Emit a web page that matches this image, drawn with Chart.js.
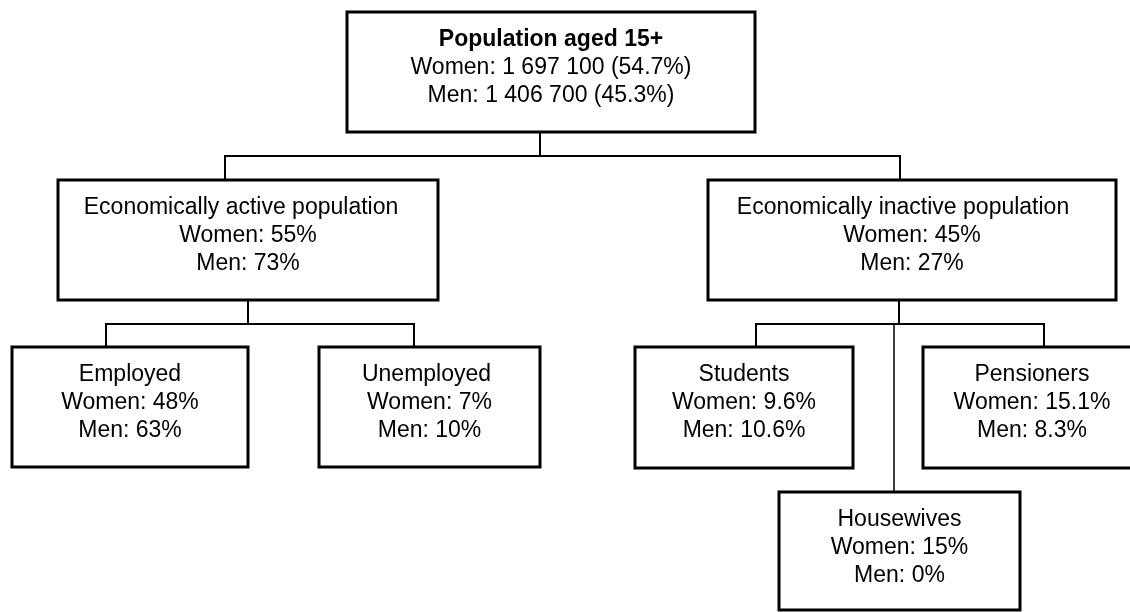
<!DOCTYPE html>
<html>
<head>
<meta charset="utf-8">
<script src="https://cdn.jsdelivr.net/npm/chart.js@4"></script>
<style>
  body { margin: 0; background: #fff; }
  canvas { display: block; }
</style>
</head>
<body>
<canvas id="tree" width="1130" height="612"></canvas>
<script>
// node data
const nodeTitles = [
    "Population aged 15+",
    "Economically active population",
    "Economically inactive population",
    "Employed",
    "Unemployed",
    "Students",
    "Pensioners",
    "Housewives",
];
const parentOf = [-1, 0, 0, 1, 1, 2, 2, 2];
const totalWomen = 1697100;
const totalMen = 1406700;
const shareWomen = 54.7;
const shareMen = 45.3;
const womenPct = [null, 55, 45, 48, 7, 9.6, 15.1, 15];
const menPct = [null, 73, 27, 63, 10, 10.6, 8.3, 0];

// layout (axis units = pixels of the 1130x612 page)
const boxes = [
    [347, 12, 755, 132],
    [58, 180, 438, 300],
    [708, 180, 1116, 300],
    [12, 347, 248, 467],
    [319, 347, 540, 467],
    [635, 347, 853, 468],
    [923, 347, 1136, 468],
    [779, 492, 1020, 610],
];
const titleShift = [0, -7, -9, 0, -3, 0, 0, 0];
const stemX = { 0: 540, 1: 248, 2: 899 };
const barY = { 0: 156, 1: 324, 2: 324 };
const dropX = [null, 225, 900, 106, 414, 756, 1044, 894];
const dropWidth = [null, 2, 2, 2, 2, 2, 2, 1.5];

function spaced(n) {
    return n.toString().replace(/\B(?=(\d{3})+(?!\d))/g, " ");
}

function nodeLines(i) {
    if (i === 0) {
        return [
            nodeTitles[0],
            "Women: " + spaced(totalWomen) + " (" + shareWomen + "%)",
            "Men: " + spaced(totalMen) + " (" + shareMen + "%)",
        ];
    }
    return [nodeTitles[i], "Women: " + womenPct[i] + "%", "Men: " + menPct[i] + "%"];
}

const datasets = [];

// boxes
boxes.forEach((b) => {
    datasets.push({
        data: [
            { x: b[0], y: b[1] },
            { x: b[2], y: b[1] },
            { x: b[2], y: b[3] },
            { x: b[0], y: b[3] },
            { x: b[0], y: b[1] },
        ],
        showLine: true,
        borderColor: "#000",
        borderWidth: 3,
        borderJoinStyle: "miter",
        borderCapStyle: "square",
        pointRadius: 0,
        fill: false,
    });
});

function segment(x0, y0, x1, y1, w) {
    datasets.push({
        data: [{ x: x0, y: y0 }, { x: x1, y: y1 }],
        showLine: true,
        borderColor: "#000",
        borderWidth: w,
        pointRadius: 0,
        fill: false,
    });
}

// connectors
Object.keys(stemX).forEach((k) => {
    const p = parseInt(k);
    const kids = [];
    parentOf.forEach((par, i) => {
        if (par === p) kids.push(i);
    });
    segment(stemX[p], boxes[p][3], stemX[p], barY[p], 2);
    const xs = kids.map((i) => dropX[i]).concat([stemX[p]]);
    segment(Math.min(...xs) - 1, barY[p], Math.max(...xs) + 1, barY[p], 2);
    kids.forEach((i) => {
        segment(dropX[i], barY[p], dropX[i], boxes[i][1], dropWidth[i]);
    });
});

const labelPlugin = {
    id: "nodeLabels",
    afterDatasetsDraw(chart) {
        const c = chart.ctx;
        const sx = chart.scales.x;
        const sy = chart.scales.y;
        c.save();
        c.fillStyle = "#000";
        c.textAlign = "center";
        c.textBaseline = "alphabetic";
        boxes.forEach((b, i) => {
            const lines = nodeLines(i);
            const cx = (b[0] + Math.min(b[2], 1130 + 0)) / 2;
            const mid = i === 6 ? 1032 : (b[0] + b[2]) / 2;
            lines.forEach((t, j) => {
                c.font = (i === 0 && j === 0 ? "bold " : "") + '23px "Liberation Sans", Arial, sans-serif';
                const xv = j === 0 ? mid + titleShift[i] : mid;
                c.fillText(t, sx.getPixelForValue(xv), sy.getPixelForValue(b[1] + 33.5 + j * 28));
            });
        });
        c.restore();
    },
};

new Chart(document.getElementById("tree").getContext("2d"), {
    type: "scatter",
    data: { datasets: datasets },
    options: {
        responsive: false,
        animation: false,
        events: [],
        layout: { padding: 0 },
        plugins: {
            legend: { display: false },
            tooltip: { enabled: false },
        },
        scales: {
            x: { type: "linear", min: 0, max: 1130, display: false },
            y: { type: "linear", min: 0, max: 612, reverse: true, display: false },
        },
    },
    plugins: [labelPlugin],
});
</script>
</body>
</html>
